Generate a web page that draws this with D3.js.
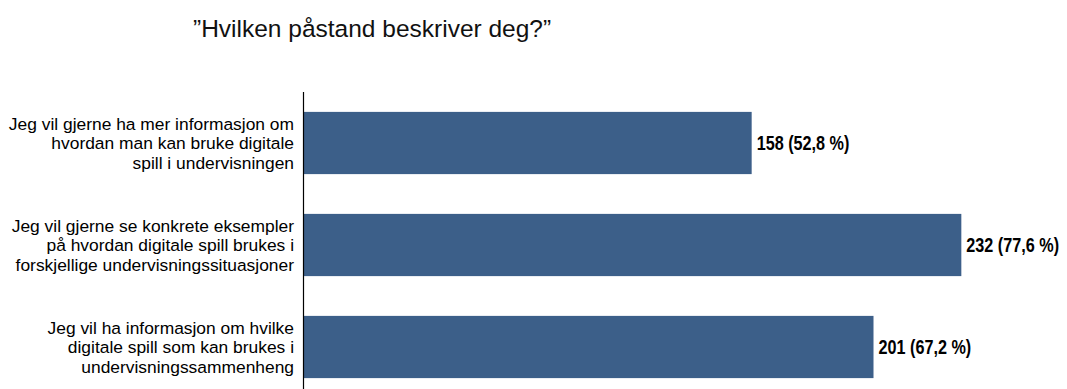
<!DOCTYPE html>
<html>
<head>
<meta charset="utf-8">
<script src="https://cdn.jsdelivr.net/npm/d3@7"></script>
<style>
  body { margin: 0; background: #fff; }
  svg { display: block; }
</style>
</head>
<body>
<div id="chart"></div>
<script>
// data
const title = "\u201DHvilken påstand beskriver deg?\u201D";
const categories = [
  ["Jeg vil gjerne ha mer informasjon om", "hvordan man kan bruke digitale", "spill i undervisningen"],
  ["Jeg vil gjerne se konkrete eksempler", "på hvordan digitale spill brukes i", "forskjellige undervisningssituasjoner"],
  ["Jeg vil ha informasjon om hvilke", "digitale spill som kan brukes i", "undervisningssammenheng"]
];
const counts = [158, 232, 201];
const percents = ["52,8", "77,6", "67,2"];

const width = 1067, height = 389;
const svg = d3.select("#chart").append("svg")
  .attr("width", width)
  .attr("height", height);

const x = d3.scaleLinear()
  .domain([0, 300])
  .range([304, 304 + 850]);

const y = d3.scaleBand()
  .domain(d3.range(categories.length))
  .range([92, 398])
  .paddingInner(0.39)
  .paddingOuter(0.195);

svg.append("text")
  .attr("x", 193)
  .attr("y", 37)
  .attr("font-family", "Liberation Sans, Arial, sans-serif")
  .attr("font-size", 24.5)
  .attr("fill", "#111")
  .text(title);

// bars
svg.selectAll(".bar")
  .data(counts)
  .enter()
  .append("rect")
  .attr("class", "bar")
  .attr("x", x(0))
  .attr("y", (d, i) => y(i))
  .attr("width", d => x(d) - x(0))
  .attr("height", y.bandwidth())
  .attr("fill", "#3c5f89");

// value labels (condensed bold look: squeeze horizontally)
svg.selectAll(".val")
  .data(counts)
  .enter()
  .append("text")
  .attr("class", "val")
  .attr("transform", (d, i) => `translate(${x(d) + 5},${y(i) + y.bandwidth() / 2}) scale(0.81,1)`)
  .attr("dy", "0.36em")
  .attr("font-family", "Liberation Sans, Arial, sans-serif")
  .attr("font-weight", "bold")
  .attr("font-size", 20)
  .attr("fill", "#000")
  .text((d, i) => `${d} (${percents[i]} %)`);

// category labels
const lineH = 19.5;
svg.selectAll(".cat")
  .data(categories)
  .enter()
  .append("text")
  .attr("class", "cat")
  .attr("text-anchor", "end")
  .attr("font-family", "Liberation Sans, Arial, sans-serif")
  .attr("font-size", 17.4)
  .attr("fill", "#000")
  .each(function (lines, i) {
    const cy = y(i) + y.bandwidth() / 2;
    const t = d3.select(this);
    lines.forEach((s, k) => {
      t.append("tspan")
        .attr("x", 294)
        .attr("y", cy + (k - (lines.length - 1) / 2) * lineH)
        .attr("dy", "0.35em")
        .text(s);
    });
  });

// axis line
svg.append("line")
  .attr("x1", 303.5).attr("x2", 303.5)
  .attr("y1", 92).attr("y2", height)
  .attr("stroke", "#000")
  .attr("stroke-width", 1.2);
</script>
</body>
</html>
